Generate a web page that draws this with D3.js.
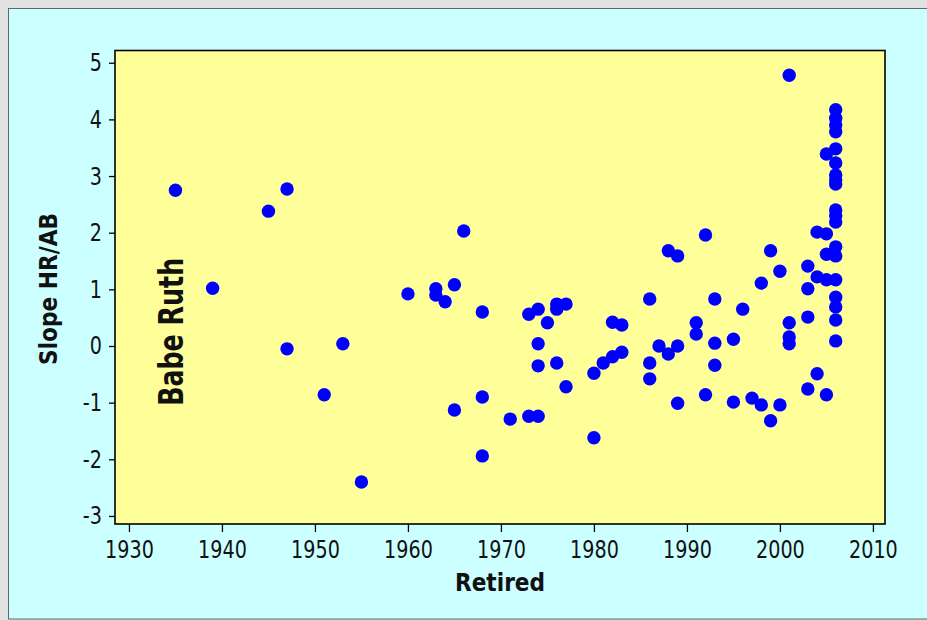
<!DOCTYPE html>
<html>
<head>
<meta charset="utf-8">
<script src="https://cdn.jsdelivr.net/npm/d3@7"></script>
<style>
  html, body { margin: 0; padding: 0; background: #e1e1e1; }
  svg { display: block; }
  text { font-family: "DejaVu Sans", "Noto Sans", sans-serif; fill: #111; }
</style>
</head>
<body>
<svg id="chart" width="927" height="620"></svg>
<script>
// Year each player retired, paired index-by-index with the fitted slope of HR/AB
const retiredYears = [
  1935, 1939, 1945, 1947, 1947, 1951, 1953, 1955, 1960, 1963, 1963, 1964,
  1965, 1965, 1966, 1968, 1968, 1968, 1971, 1973, 1973, 1974, 1974, 1974,
  1974, 1975, 1976, 1976, 1976, 1977, 1977, 1980, 1980, 1981, 1982, 1982,
  1983, 1983, 1986, 1986, 1986, 1987, 1988, 1988, 1989, 1989, 1989, 1991,
  1991, 1992, 1992, 1993, 1993, 1993, 1995, 1995, 1996, 1997, 1998, 1998,
  1999, 1999, 2000, 2000, 2001, 2001, 2001, 2001, 2003, 2003, 2003, 2003,
  2004, 2004, 2004, 2005, 2005, 2005, 2005, 2005,
  2006, 2006, 2006, 2006, 2006, 2006, 2006, 2006, 2006, 2006,
  2006, 2006, 2006, 2006, 2006, 2006, 2006, 2006, 2006
];
const slopes = [
  2.75, 1.02, 2.38, 2.77, -0.05, -0.86, 0.04, -2.40, 0.92, 1.01, 0.90, 0.78,
  1.08, -1.13, 2.03, 0.60, -0.90, -1.94, -1.29, 0.56, -1.24, 0.65, 0.04, -0.35,
  -1.24, 0.41, 0.74, 0.65, -0.30, 0.74, -0.72, -0.48, -1.62, -0.30, 0.42, -0.19,
  0.37, -0.11, 0.83, -0.30, -0.58, 0.00, 1.68, -0.14, 1.59, 0.00, -1.01, 0.41,
  0.21, 1.96, -0.86, 0.83, 0.05, -0.34, 0.12, -0.99, 0.65, -0.92, 1.11, -1.04,
  1.68, -1.32, 1.32, -1.04, 4.78, 0.41, 0.16, 0.04, 1.41, 1.01, 0.51, -0.76,
  2.01, 1.22, -0.49, 3.39, 1.98, 1.62, 1.17, -0.86,
  4.17, 4.02, 3.90, 3.78, 3.48, 3.23, 3.02, 2.93, 2.86, 2.40,
  2.30, 2.19, 1.75, 1.59, 1.17, 0.86, 0.69, 0.46, 0.09
];
const xTicks = [1930, 1940, 1950, 1960, 1970, 1980, 1990, 2000, 2010];
const yTicks = [-3, -2, -1, 0, 1, 2, 3, 4, 5];
const xDomain = [1928.5, 2011.3];
const yDomain = [-3.142, 5.216];
const xTitle = "Retired";
const yTitle = "Slope HR/AB";
const annotation = { text: "Babe Ruth", year: 1933.7, value: 0.25 };

const points = retiredYears.map((yr, i) => ({ year: yr, slope: slopes[i] }));

const svg = d3.select("#chart");
const W = 927, H = 620;
const plot = { left: 115, top: 50.5, right: 885, bottom: 524 };

// outer grey margin and cyan panel
svg.append("rect").attr("width", W).attr("height", H).attr("fill", "#e1e1e1");
svg.append("rect")
  .attr("x", 8.5).attr("y", 8.5).attr("width", W + 10).attr("height", 610.5)
  .attr("fill", "#ccffff").attr("stroke", "#5a6a6a").attr("stroke-width", 1);

const x = d3.scaleLinear().domain(xDomain).range([plot.left, plot.right]);
const y = d3.scaleLinear().domain(yDomain).range([plot.bottom, plot.top]);

// plotting area
svg.append("rect")
  .attr("x", plot.left).attr("y", plot.top)
  .attr("width", plot.right - plot.left).attr("height", plot.bottom - plot.top)
  .attr("fill", "#ffff99");

// digit-width based label length, for a narrow sans look
const labelLen = s => Array.from(s).reduce((a, c) => a + (c === "-" ? 7 : 12.2), 0);

const xAxis = svg.append("g")
  .attr("transform", `translate(0,${plot.bottom})`)
  .call(d3.axisBottom(x).tickValues(xTicks).tickFormat(d => String(d))
    .tickSize(8).tickPadding(8));
const yAxis = svg.append("g")
  .attr("transform", `translate(${plot.left},0)`)
  .call(d3.axisLeft(y).tickValues(yTicks).tickFormat(d => String(d))
    .tickSize(6).tickPadding(7));

[xAxis, yAxis].forEach(g => {
  g.select(".domain").remove();
  g.selectAll(".tick line").attr("stroke", "#000").attr("stroke-width", 1.3);
  g.selectAll(".tick text")
    .attr("font-size", 25)
    .attr("font-family", "DejaVu Sans")
    .attr("fill", "#111")
    .attr("lengthAdjust", "spacingAndGlyphs")
    .attr("textLength", function () { return labelLen(this.textContent); });
});

// points
svg.append("g")
  .selectAll("circle")
  .data(points)
  .join("circle")
  .attr("cx", d => x(d.year))
  .attr("cy", d => y(d.slope))
  .attr("r", 6.7)
  .attr("fill", "#0000ff");

// frame over the marks
svg.append("rect")
  .attr("x", plot.left).attr("y", plot.top)
  .attr("width", plot.right - plot.left).attr("height", plot.bottom - plot.top)
  .attr("fill", "none").attr("stroke", "#000").attr("stroke-width", 1.6);

// annotation for the 1935 retiree
svg.append("text")
  .attr("transform", `translate(${x(annotation.year) + 20},${y(annotation.value)}) rotate(-90)`)
  .attr("text-anchor", "middle")
  .attr("font-size", 33).attr("font-weight", "bold")
  .attr("lengthAdjust", "spacingAndGlyphs").attr("textLength", 148)
  .text(annotation.text);

// axis titles
svg.append("text")
  .attr("x", (plot.left + plot.right) / 2).attr("y", 591)
  .attr("text-anchor", "middle")
  .attr("font-size", 24).attr("font-weight", "bold")
  .attr("lengthAdjust", "spacingAndGlyphs").attr("textLength", 90)
  .text(xTitle);

svg.append("text")
  .attr("transform", `translate(57,289) rotate(-90)`)
  .attr("text-anchor", "middle")
  .attr("font-size", 25).attr("font-weight", "bold")
  .attr("lengthAdjust", "spacingAndGlyphs").attr("textLength", 152)
  .text(yTitle);
</script>
</body>
</html>
